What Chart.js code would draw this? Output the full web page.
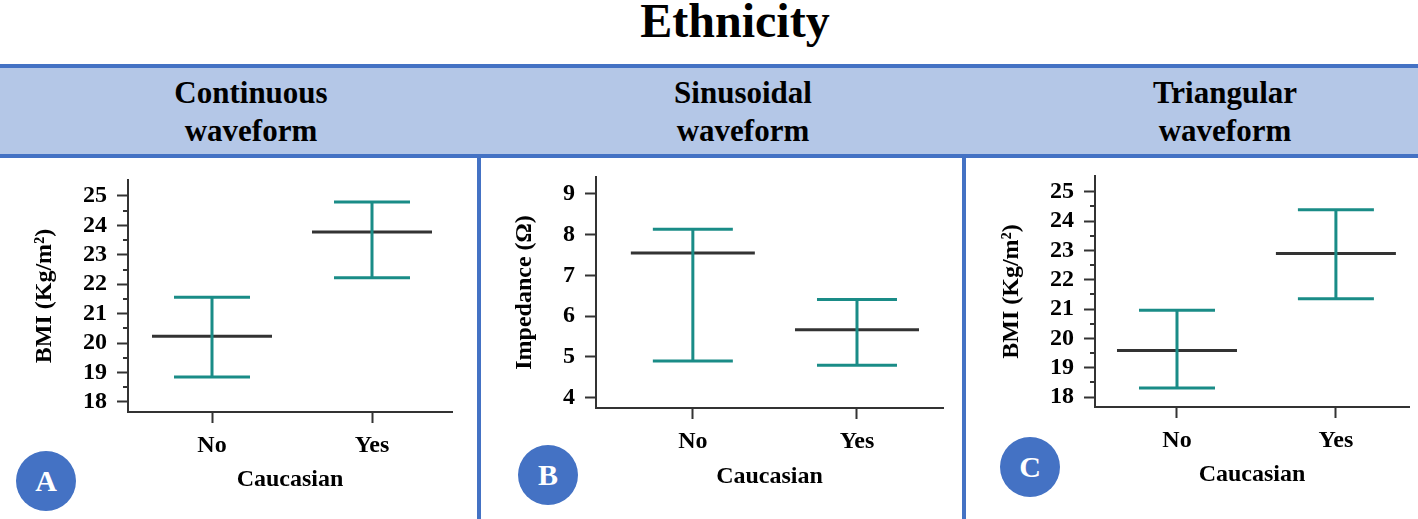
<!DOCTYPE html>
<html>
<head>
<meta charset="utf-8">
<script src="https://cdn.jsdelivr.net/npm/chart.js@4.4.1/dist/chart.umd.min.js"></script>
<style>
  body { margin: 0; width: 1418px; height: 519px; background: #fff; position: relative; overflow: hidden; font-family: 'Liberation Serif', 'Times New Roman', serif; }
  .titulo { position: absolute; left: 26px; top: -7px; width: 1418px; text-align: center; font-size: 48px; line-height: 56px; font-weight: bold; color: #000; }
  .faixa { position: absolute; left: 0; top: 64px; width: 1418px; height: 86px; background: #b4c7e7; border-top: 4px solid #4472c4; border-bottom: 4px solid #4472c4; }
  .cabecalho { position: absolute; top: 74px; width: 300px; text-align: center; font-size: 31px; line-height: 38px; font-weight: bold; color: #000; }
  .separador { position: absolute; top: 158px; width: 4px; height: 361px; background: #4472c4; }
  .circulo { position: absolute; width: 60px; height: 60px; border-radius: 50%; background: #4472c4; color: #fff; font-size: 30px; font-weight: bold; display: flex; align-items: center; justify-content: center; z-index: 5; }
  canvas { position: absolute; top: 160px; }
</style>
</head>
<body>
<div class="titulo">Ethnicity</div>
<div class="faixa"></div>
<div class="cabecalho" style="left:101px">Continuous<br>waveform</div>
<div class="cabecalho" style="left:593px">Sinusoidal<br>waveform</div>
<div class="cabecalho" style="left:1075px">Triangular<br>waveform</div>
<div class="separador" style="left:477px"></div>
<div class="separador" style="left:962px"></div>

<canvas id="grafico_a" width="476" height="359" style="left:0px"></canvas>
<canvas id="grafico_b" width="479" height="359" style="left:482px"></canvas>
<canvas id="grafico_c" width="451" height="359" style="left:967px"></canvas>

<div class="circulo" style="left:16px; top:451px">A</div>
<div class="circulo" style="left:518px; top:445px">B</div>
<div class="circulo" style="left:1000px; top:437px">C</div>

<script>
// categories and tick labels
const categories = ['No', 'Yes'];
const bmiTicks = [18, 19, 20, 21, 22, 23, 24, 25];
const impedanceTicks = [4, 5, 6, 7, 8, 9];

// A - continuous waveform (BMI)
const continuousMean = [20.23, 23.77];
const continuousLower = [18.85, 22.22];
const continuousUpper = [21.56, 24.79];

// B - sinusoidal waveform (impedance)
const sinusoidalMean = [7.55, 5.67];
const sinusoidalLower = [4.90, 4.80];
const sinusoidalUpper = [8.13, 6.41];

// C - triangular waveform (BMI)
const triangularMean = [19.59, 22.90];
const triangularLower = [18.31, 21.35];
const triangularUpper = [20.96, 24.39];

const TEAL = '#1a8c87';
const DARK = '#333333';
const FONT = { family: "'Liberation Serif', 'Times New Roman', serif", size: 24, weight: 'bold' };

// small ticks between the whole numbers
const minorTicksPlugin = {
  id: 'minorTicks',
  afterDraw(chart, args, opts) {
    if (!opts.values || !opts.values.length) return;
    const y = chart.scales.y;
    const ctx = chart.ctx;
    ctx.save();
    ctx.strokeStyle = DARK;
    ctx.lineWidth = 2;
    opts.values.forEach(v => {
      const py = Math.round(y.getPixelForValue(v));
      ctx.beginPath();
      ctx.moveTo(y.right - opts.length, py);
      ctx.lineTo(y.right, py);
      ctx.stroke();
    });
    ctx.restore();
  }
};

function drawPanel(id, geo, means, lower, upper, yTicks, yMin, yMax, xMin, xMax, yTitle, minor) {
  const half = 14.4; // half the title line height
  const padL = geo.yTitleX - geo.cl - half;
  const yWidth = geo.left - geo.cl - padL;
  const padR = geo.cl + geo.cw - geo.right;
  const padT = geo.top - 160;
  const padB = 160 + 359 - geo.xTitleY - half;
  const xHeight = geo.xTitleY + half - geo.bottom;

  // stems: lower to upper, broken between the two categories
  const stem = [];
  means.forEach((m, i) => {
    if (i > 0) stem.push({ x: i - 0.5, y: null });
    stem.push({ x: i, y: lower[i] });
    stem.push({ x: i, y: upper[i] });
  });
  const caps = [];
  means.forEach((m, i) => {
    caps.push({ x: i, y: lower[i] });
    caps.push({ x: i, y: upper[i] });
  });

  return new Chart(document.getElementById(id), {
    type: 'scatter',
    data: {
      datasets: [
        {
          data: stem, showLine: true, spanGaps: false,
          borderColor: TEAL, borderWidth: 3, pointRadius: 0
        },
        {
          data: caps, pointStyle: 'line', pointRadius: geo.cap,
          pointBorderColor: TEAL, pointBorderWidth: 3, pointBackgroundColor: TEAL
        },
        {
          data: means.map((m, i) => ({ x: i, y: m })), pointStyle: 'line', pointRadius: geo.mean,
          pointBorderColor: DARK, pointBorderWidth: 3, pointBackgroundColor: DARK
        }
      ]
    },
    options: {
      responsive: false,
      animation: false,
      devicePixelRatio: 1,
      events: [],
      layout: { autoPadding: false, padding: { left: padL, right: padR, top: padT, bottom: padB } },
      scales: {
        x: {
          type: 'linear', min: xMin, max: xMax,
          afterBuildTicks: s => { s.ticks = categories.map((c, i) => ({ value: i })); },
          afterFit: s => { s.height = xHeight; s.paddingLeft = 0; s.paddingRight = 0; },
          grid: { drawOnChartArea: false, tickLength: 11, tickWidth: 2, tickColor: DARK },
          border: { display: true, color: DARK, width: 2 },
          ticks: { color: '#000', font: FONT, padding: 8, maxRotation: 0, autoSkip: false, callback: (v, i) => categories[i] },
          title: { display: true, text: 'Caucasian', color: '#000', font: FONT, padding: 0 }
        },
        y: {
          type: 'linear', min: yMin, max: yMax,
          afterBuildTicks: s => { s.ticks = yTicks.map(v => ({ value: v })); },
          afterFit: s => { s.width = yWidth; s.paddingTop = 0; s.paddingBottom = 0; },
          grid: { drawOnChartArea: false, tickLength: 11, tickWidth: 2, tickColor: DARK },
          border: { display: true, color: DARK, width: 2 },
          ticks: { color: '#000', font: FONT, padding: 10, autoSkip: false },
          title: { display: true, text: yTitle, color: '#000', font: FONT, padding: 0 }
        }
      },
      plugins: {
        legend: { display: false },
        tooltip: { enabled: false },
        minorTicks: { values: minor, length: 5 }
      }
    },
    plugins: [minorTicksPlugin]
  });
}

const minorBmi = bmiTicks.slice(0, -1).map(v => v + 0.5);

drawPanel('grafico_a',
  { cl: 0, cw: 476, left: 128, right: 452, top: 180, bottom: 412, yTitleX: 45, xTitleY: 480, cap: 38, mean: 60 },
  continuousMean, continuousLower, continuousUpper, bmiTicks, 17.66, 25.54, -0.525, 1.5,
  'BMI (Kg/m²)', minorBmi);

drawPanel('grafico_b',
  { cl: 482, cw: 479, left: 596, right: 943, top: 177, bottom: 408, yTitleX: 525, xTitleY: 477, cap: 40, mean: 62 },
  sinusoidalMean, sinusoidalLower, sinusoidalUpper, impedanceTicks, 3.75, 9.41, -0.59, 1.524,
  'Impedance (Ω)', []);

drawPanel('grafico_c',
  { cl: 967, cw: 451, left: 1095, right: 1409, top: 176, bottom: 407, yTitleX: 1012, xTitleY: 475, cap: 38, mean: 60 },
  triangularMean, triangularLower, triangularUpper, bmiTicks, 17.66, 25.54, -0.516, 1.46,
  'BMI (Kg/m²)', minorBmi);
</script>
</body>
</html>
